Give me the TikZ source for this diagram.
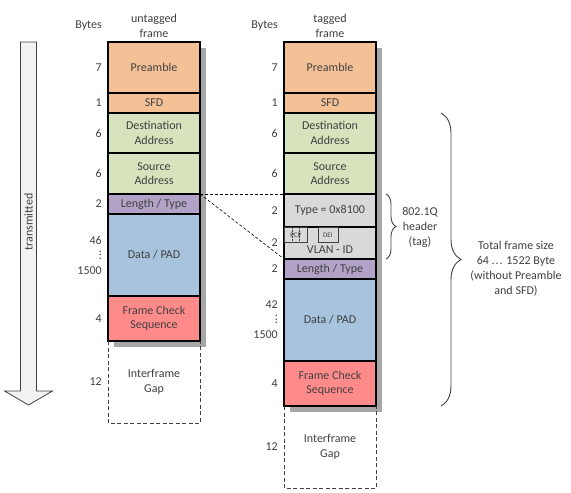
\documentclass[tikz,border=0pt]{standalone}
\usepackage{fontspec}
\setmainfont{Carlito}
\usetikzlibrary{positioning,calc,backgrounds,decorations.pathreplacing}
\definecolor{inkc}{HTML}{404040}
\definecolor{preac}{HTML}{F4C197}
\definecolor{addrc}{HTML}{D7E3BC}
\definecolor{lenc}{HTML}{B3A2C7}
\definecolor{datac}{HTML}{A7C3DD}
\definecolor{fcsc}{HTML}{FF8A8A}
\definecolor{tagc}{HTML}{D9D9D9}
\definecolor{shadc}{HTML}{A6A6A6}
\definecolor{arrc}{HTML}{F2F2F2}
\newcommand{\vdts}{\vbox{\baselineskip3.5pt\lineskiplimit0pt\hbox{.}\hbox{.}\hbox{.}}}
\tikzset{
  fld/.style  ={draw=black,line width=1.1pt,minimum width=92pt,inner sep=0pt,outer sep=0pt,
                align=center,font=\fontsize{12}{14.5}\selectfont,text=inkc},
  prea/.style ={fld,fill=preac},
  addr/.style ={fld,fill=addrc},
  len/.style  ={fld,fill=lenc,minimum height=20pt},
  dat/.style  ={fld,fill=datac,minimum height=82pt},
  fcs/.style  ={fld,fill=fcsc,minimum height=45pt},
  tagf/.style ={fld,fill=tagc},
  ifg/.style  ={fld,draw=none,minimum height=82pt},
  ifgln/.style={draw=inkc,line width=1pt,dash pattern=on 4pt off 2.5pt},
  subf/.style ={draw=inkc,line width=.6pt,inner sep=0pt,minimum height=15pt,
                font=\fontsize{7}{8}\selectfont,text=inkc},
  subdiv/.style={draw=inkc,line width=.6pt,dash pattern=on 1.5pt off 1.5pt},
  num/.style  ={inner sep=0pt,align=right,font=\fontsize{12}{15}\selectfont,text=inkc},
  lbl/.style  ={inner sep=0pt,align=center,font=\fontsize{12}{15}\selectfont,text=inkc},
  brc/.style  ={draw=inkc,line width=.9pt,decorate,decoration={brace,amplitude=#1}},
  shad/.style ={fill=shadc},
  blkarr/.style={draw=inkc,line width=.8pt,fill=arrc},
  ins/.style  ={draw=black,line width=.6pt,dash pattern=on 3pt off 2pt},
}

\begin{document}
\begin{tikzpicture}[x=1pt,y=1pt]
\useasboundingbox (0,0) rectangle (571,-493);

% ---- transmission direction ---------------------------------------------
\draw[blkarr] (20.5,-42)--(36.5,-42)--(36.5,-391)--(52.5,-391)--(28.5,-405)--(4.5,-391)--(20.5,-391)--cycle;
\node[lbl,rotate=90] (txd) at (28.5,-222) {transmitted};

% ---- untagged frame -----------------------------------------------------
\node[prea,minimum height=51pt,anchor=north west] (preL) at (108,-42) {Preamble};
\node[prea,minimum height=20pt,below=0pt of preL] (sfdL) {SFD};
\node[addr,minimum height=40pt,below=0pt of sfdL] (dstL) {Destination\\Address};
\node[addr,minimum height=41pt,below=0pt of dstL] (srcL) {Source\\Address};
\node[len,below=0pt of srcL] (lenL) {Length / Type};
\node[dat,below=0pt of lenL] (datL) {Data / PAD};
\node[fcs,below=0pt of datL] (fcsL) {Frame Check\\Sequence};
\node[ifg,below=0pt of fcsL] (ifgL) {Interframe\\Gap};
\draw[ifgln] (ifgL.north west) |- (ifgL.south east) -- (ifgL.north east);

\node[num,left=6pt of preL] (nPreL) {7};
\node[num,left=6pt of sfdL] (nSfdL) {1};
\node[num,left=6pt of dstL] (nDstL) {6};
\node[num,left=6pt of srcL] (nSrcL) {6};
\node[num,left=6pt of lenL] (nLenL) {2};
\node[num,left=6pt of datL] (nDatL) {46\\\vdts\hspace{6pt}\\1500};
\node[num,left=6pt of fcsL] (nFcsL) {4};
\node[num,left=6pt of ifgL] (nIfgL) {12};

\node[lbl,above=4pt of preL] (hdL) {untagged\\frame};
\node[lbl,anchor=east] (byL) at (hdL.west -| nPreL.east) {Bytes};

% ---- tagged frame -------------------------------------------------------
\node[prea,minimum height=51pt,anchor=north west] (preR) at (284,-42) {Preamble};
\node[prea,minimum height=20pt,below=0pt of preR] (sfdR) {SFD};
\node[addr,minimum height=40pt,below=0pt of sfdR] (dstR) {Destination\\Address};
\node[addr,minimum height=41pt,below=0pt of dstR] (srcR) {Source\\Address};
\node[tagf,minimum height=33pt,below=0pt of srcR] (typR) {Type = 0x8100};
\node[tagf,minimum height=32pt,below=0pt of typR] (vlnR) {};
\node[lbl] (vidR) at ([yshift=-7pt]vlnR.center) {VLAN - ID};
\node[subf,minimum width=23pt,anchor=north west] (pcp) at (vlnR.north west) {PCP};
\node[subf,minimum width=20pt,right=10pt of pcp] (dei) {DEI};
\draw[subdiv] ($(pcp.north west)!1/3!(pcp.north east)$) -- ($(pcp.south west)!1/3!(pcp.south east)$);
\draw[subdiv] ($(pcp.north west)!2/3!(pcp.north east)$) -- ($(pcp.south west)!2/3!(pcp.south east)$);
\node[len,below=0pt of vlnR] (lenR) {Length / Type};
\node[dat,below=0pt of lenR] (datR) {Data / PAD};
\node[fcs,below=0pt of datR] (fcsR) {Frame Check\\Sequence};
\node[ifg,below=0pt of fcsR] (ifgR) {Interframe\\Gap};
\draw[ifgln] (ifgR.north west) |- (ifgR.south east) -- (ifgR.north east);

\node[num,left=6pt of preR] (nPreR) {7};
\node[num,left=6pt of sfdR] (nSfdR) {1};
\node[num,left=6pt of dstR] (nDstR) {6};
\node[num,left=6pt of srcR] (nSrcR) {6};
\node[num,left=6pt of typR] (nTypR) {2};
\node[num,left=6pt of vlnR] (nVlnR) {2};
\node[num,left=6pt of lenR] (nLenR) {2};
\node[num,left=6pt of datR] (nDatR) {42\\\vdts\hspace{6pt}\\1500};
\node[num,left=6pt of fcsR] (nFcsR) {4};
\node[num,left=6pt of ifgR] (nIfgR) {12};

\node[lbl,above=4pt of preR] (hdR) {tagged\\frame};
\node[lbl,anchor=east] (byR) at (hdR.west -| nPreR.east) {Bytes};

% ---- inserted tag -------------------------------------------------------
\draw[ins] (srcL.south east) -- (typR.north west);
\draw[ins] (srcL.south east) -- (vlnR.south west);

\draw[brc=10pt] ([xshift=10pt]typR.north east) -- ([xshift=10pt]vlnR.south east);
\node[lbl] (tagtx) at ([xshift=44pt]typR.south east) {802.1Q\\header\\(tag)};

\draw[brc=20pt] ([xshift=65pt]dstR.north east) -- ([xshift=65pt]fcsR.south east);
\node[lbl] (tottx) at ([xshift=140pt,yshift=-9pt]$(dstR.north east)!.5!(fcsR.south east)$)
  {Total frame size\\64 .\kern1pt.\kern1pt. 1522 Byte\\(without Preamble\\and SFD)};

\begin{scope}[on background layer]
  \fill[shad] ([shift={(6,-6)}]preL.north west) rectangle ([shift={(6,-6)}]fcsL.south east);
  \fill[shad] ([shift={(6,-6)}]preR.north west) rectangle ([shift={(6,-6)}]fcsR.south east);
\end{scope}
\end{tikzpicture}
\end{document}
